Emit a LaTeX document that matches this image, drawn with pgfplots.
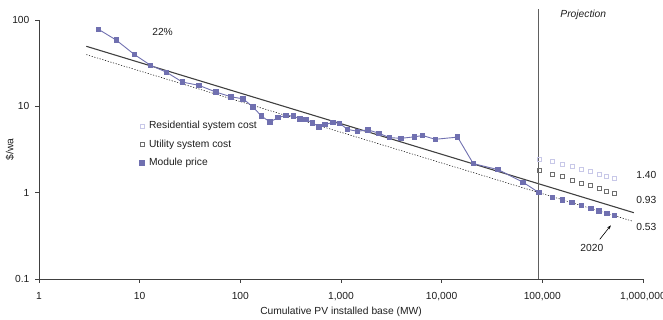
\documentclass[border=0pt]{standalone}
\usepackage{pgfplots}
\pgfplotsset{compat=1.18}
\usepackage{fontspec}
\setmainfont{Liberation Sans}
\usetikzlibrary{calc,arrows.meta}

\definecolor{modc}{RGB}{112,112,176}
\definecolor{resc}{RGB}{200,200,232}
\definecolor{utic}{RGB}{110,110,110}
\definecolor{trendc}{RGB}{64,64,64}
\definecolor{projc}{RGB}{96,96,96}
\definecolor{txt}{RGB}{30,30,30}

\begin{document}
\fontsize{10.3}{12}\selectfont
\begin{tikzpicture}
\begin{axis}[
  scale only axis, width=604bp, height=259bp,
  xmode=log, ymode=log,
  xmin=1, xmax=1e6, ymin=0.1, ymax=100,
  axis lines=left,
  axis line style={-, line width=0.9pt, black!75},
  tick align=outside,
  major tick length=4bp,
  tick style={black!75, line width=0.7pt},
  xminorticks=false, yminorticks=false,
  xtick={1,10,100,1000,10000,100000,1000000},
  xticklabels={1,10,100,{1,000},{10,000},{100,000},{1,000,000}},
  ytick={0.1,1,10,100},
  yticklabels={0.1,1,10,100},
  xticklabel style={text=txt, yshift=-5.5bp},
  yticklabel style={text=txt, xshift=-2bp},
  xlabel={Cumulative PV installed base (MW)},
  xlabel style={at={(axis description cs:0.5,-0.1286)}, anchor=center, text=txt},
  ylabel={\$/wa},
  ylabel style={at={(axis description cs:-0.048,0.5)}, anchor=center, text=txt},
  clip=false,
  legend style={draw=none, fill=none, at={(axis description cs:0.1655,0.52)}, anchor=west,
    row sep=5.5bp, inner sep=0pt, text=txt,
    legend cell align=left},
  legend image code/.code={\draw[#1] plot coordinates {(0bp,0bp)}; \path (-2.5bp,0bp) (5bp,0bp);},
]
% trend lines
\addplot[trendc, line width=1.1pt, forget plot] coordinates {(2.95,49.6) (811000,0.586)};
\addplot[black, line width=0.5pt, dash pattern=on 1.2pt off 1.6pt, forget plot] coordinates {(2.95,39.7) (780000,0.469)};
% projection divider
\addplot[projc, line width=1.3pt, forget plot] coordinates {(91200,0.1) (91200,135)};
% module price history
\addplot[modc, line width=0.9pt, mark=square*, mark size=2.2pt, mark options={fill=modc, draw=modc}, forget plot] coordinates {
(3.90,78.0) (5.84,58.6) (8.82,40.0) (12.8,29.9) (18.5,24.8) (26.6,19.1) (38.8,17.5)
(57.5,14.6) (80.7,12.9) (106.6,12.2) (133,9.87) (162,7.72) (197,6.58) (237,7.40)
(284,7.87) (338,7.70) (391,7.13) (448,7.07) (523,6.41) (606,5.79) (695,6.14)
(831,6.53) (968,6.35) (1164,5.41) (1462,5.13) (1850,5.34) (2390,4.87) (3030,4.34)
(3950,4.26) (5330,4.43) (6470,4.59) (8620,4.15) (14390,4.40) (20600,2.17)
(36300,1.85) (64400,1.32) (92600,1.00)};
% projections
\addplot[only marks, mark=square, mark size=2pt, mark options={draw=resc, line width=0.6pt}, forget plot] coordinates {
(92300,2.43) (125600,2.29) (158000,2.13) (196500,2.01) (243900,1.86) (301000,1.75) (364000,1.64) (434000,1.55) (519000,1.45)};
\addplot[only marks, mark=square, mark size=2pt, mark options={draw=utic, line width=0.6pt}, forget plot] coordinates {
(92300,1.81) (125600,1.65) (158000,1.56) (196500,1.39) (243900,1.29) (301000,1.22) (364000,1.13) (434000,1.03) (519000,0.98)};
\addplot[only marks, mark=square*, mark size=2.2pt, mark options={fill=modc, draw=modc}, forget plot] coordinates {
(125600,0.89) (158000,0.83) (196500,0.77) (243900,0.72) (301000,0.66) (364000,0.62) (434000,0.58) (519000,0.55)};
% legend
\addlegendimage{only marks, mark=square, mark size=2pt, mark options={draw=resc, line width=0.6pt}}
\addlegendentry{Residential system cost}
\addlegendimage{only marks, mark=square, mark size=2pt, mark options={draw=utic, line width=0.6pt}}
\addlegendentry{Utility system cost}
\addlegendimage{only marks, mark=square*, mark size=2.2pt, mark options={fill=modc, draw=modc}}
\addlegendentry{Module price}
% annotations
\node[text=txt] at (axis cs:16.9,72.6) {22\%};
\node[text=txt, font=\itshape] at (axis cs:255000,114) {Projection};
\node[text=txt, anchor=west] at (axis cs:792000,1.60) {1.40};
\node[text=txt, anchor=west] at (axis cs:792000,0.83) {0.93};
\node[text=txt, anchor=west] at (axis cs:792000,0.404) {0.53};
\node[text=txt] at (axis cs:310000,0.226) {2020};
\draw[-{Stealth[length=4bp,width=3bp]}, black, line width=0.6pt] (axis cs:372000,0.288) -- (axis cs:479000,0.418);
\coordinate (bl) at (rel axis cs:0,0);
\coordinate (tr) at (rel axis cs:1,1);
\end{axis}
\pgfresetboundingbox
\path[use as bounding box] ($(bl)+(-39bp,-41bp)$) rectangle ($(tr)+(20bp,20bp)$);
\end{tikzpicture}
\end{document}
